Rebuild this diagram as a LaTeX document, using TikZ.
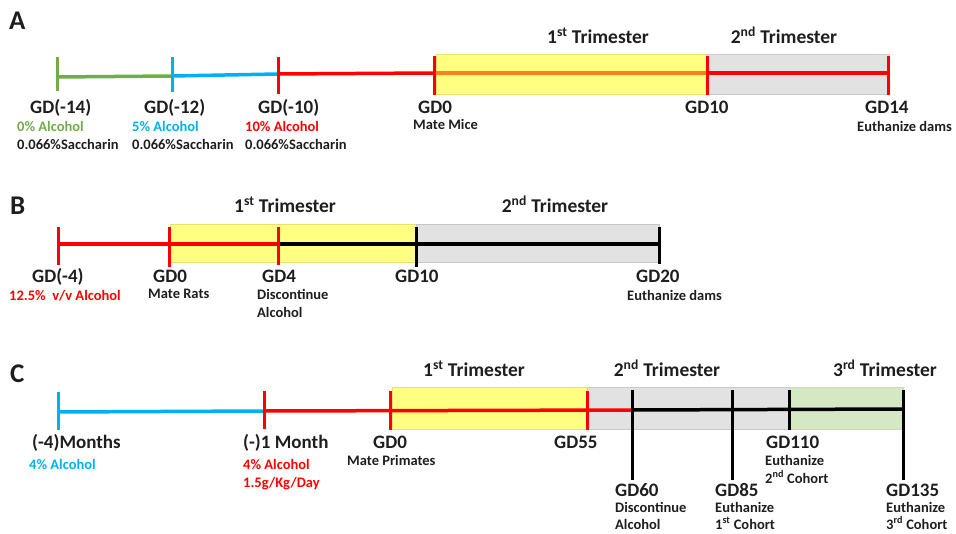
\documentclass[tikz,border=0pt]{standalone}
\usepackage{fontspec}
\setmainfont{Carlito}
\definecolor{yfill}{HTML}{FFFF80}
\definecolor{yedge}{HTML}{EEE070}
\definecolor{gfill}{HTML}{E2E2E2}
\definecolor{gedge}{HTML}{C8C8C8}
\definecolor{tfill}{HTML}{D5E8C4}
\definecolor{tedge}{HTML}{C8DDB4}
\definecolor{lgreen}{HTML}{70AD47}
\definecolor{lblue}{HTML}{00B0F0}
\definecolor{lred}{HTML}{FF0000}
\definecolor{lorange}{HTML}{F58220}
\definecolor{ink}{HTML}{1E1E1E}
\tikzset{
  gdlab/.style={anchor=base west,inner sep=0pt,text=ink,font=\fontsize{19}{22}\selectfont\bfseries},
  sublab/.style={anchor=base west,inner sep=0pt,text=ink,font=\fontsize{14.5}{17}\selectfont\bfseries},
  trilab/.style={anchor=base,inner sep=0pt,text=ink,font=\fontsize{19.5}{22}\selectfont\bfseries},
  panlab/.style={anchor=base west,inner sep=0pt,text=ink,font=\fontsize{27}{30}\selectfont\bfseries},
  seg/.style={line width=3.5pt},
  tickmark/.style={line width=3pt},
  band/.style={line width=1pt}
}
\begin{document}
\begin{tikzpicture}[x=1pt,y=-1pt]
\useasboundingbox (0,0) rectangle (956,534);
% ---------------- Panel A ----------------
\node[panlab] (pA) at (9,30) {A};
\filldraw[band,fill=yfill,draw=yedge] (436,55) rectangle (706,95);
\filldraw[band,fill=gfill,draw=gedge] (706,55) rectangle (889,95);
\coordinate (a1) at (57,77);  \coordinate (a1t) at (57,57);  \coordinate (a1b) at (57,91);
\coordinate (a2) at (172,76); \coordinate (a2t) at (172,57); \coordinate (a2b) at (172,92);
\coordinate (a3) at (278,74); \coordinate (a3t) at (278,57); \coordinate (a3b) at (278,94);
\coordinate (a4) at (434,73); \coordinate (a4t) at (434,56); \coordinate (a4b) at (434,95);
\coordinate (a5) at (707,73); \coordinate (a5t) at (707,56); \coordinate (a5b) at (707,95);
\coordinate (a6) at (888,73); \coordinate (a6t) at (888,56); \coordinate (a6b) at (888,95);
\draw[seg,lgreen] (a1) -- (a2);
\draw[seg,lblue] (a2) -- (a3);
\draw[seg,lred] (a3) -- (a4);
\draw[seg,lorange] (a4) -- (a5);
\draw[seg,lred] (a5) -- (a6);
\draw[tickmark,lgreen] (a1t) -- (a1b);
\draw[tickmark,lblue] (a2t) -- (a2b);
\draw[tickmark,lred] (a3t) -- (a3b);
\draw[tickmark,lred] (a4t) -- (a4b);
\draw[tickmark,lred] (a5t) -- (a5b);
\draw[tickmark,lred] (a6t) -- (a6b);
\node[trilab] (atri1) at (598,44) {1\textsuperscript{st} Trimester};
\node[trilab] (atri2) at (784,44) {2\textsuperscript{nd} Trimester};
\node[gdlab] (agd1) at (30,114) {GD(-14)};
\node[sublab,text=lgreen] (aal1) at (17,132) {0\% Alcohol};
\node[sublab] (asa1) at (17,150) {0.066\%Saccharin};
\node[gdlab] (agd2) at (144,114) {GD(-12)};
\node[sublab,text=lblue] (aal2) at (132,132) {5\% Alcohol};
\node[sublab] (asa2) at (132,150) {0.066\%Saccharin};
\node[gdlab] (agd3) at (258,114) {GD(-10)};
\node[sublab,text=lred] (aal3) at (245,132) {10\% Alcohol};
\node[sublab] (asa3) at (245,150) {0.066\%Saccharin};
\node[gdlab] (agd4) at (418,114) {GD0};
\node[sublab] (amate) at (413,130) {Mate Mice};
\node[gdlab] (agd5) at (685,114) {GD10};
\node[gdlab] (agd6) at (865,114) {GD14};
\node[sublab] (aeuth) at (857,132) {Euthanize dams};
% ---------------- Panel B ----------------
\node[panlab] (pB) at (10,215) {B};
\filldraw[band,fill=yfill,draw=yedge] (170,225) rectangle (416,263);
\filldraw[band,fill=gfill,draw=gedge] (416,225) rectangle (659,263);
\coordinate (b1) at (58,244);  \coordinate (b1t) at (58,227);  \coordinate (b1b) at (58,265);
\coordinate (b2) at (169,244); \coordinate (b2t) at (169,227); \coordinate (b2b) at (169,267);
\coordinate (b3) at (278,244); \coordinate (b3t) at (278,227); \coordinate (b3b) at (278,265);
\coordinate (b4) at (416,244); \coordinate (b4t) at (416,227); \coordinate (b4b) at (416,267);
\coordinate (b5) at (659,244); \coordinate (b5t) at (659,227); \coordinate (b5b) at (659,264);
\draw[seg,lred] (b1) -- (b3);
\draw[seg,black] (b3) -- (b5);
\draw[tickmark,lred] (b1t) -- (b1b);
\draw[tickmark,lred] (b2t) -- (b2b);
\draw[tickmark,lred] (b3t) -- (b3b);
\draw[tickmark,black] (b4t) -- (b4b);
\draw[tickmark,black] (b5t) -- (b5b);
\node[trilab] (btri1) at (285,213) {1\textsuperscript{st} Trimester};
\node[trilab] (btri2) at (555,213) {2\textsuperscript{nd} Trimester};
\node[gdlab] (bgd1) at (32,283) {GD(-4)};
\node[sublab,text=lred] (bal1) at (9,301) {12.5\%\ \ v/v Alcohol};
\node[gdlab] (bgd2) at (153,283) {GD0};
\node[sublab] (bmate) at (148,299) {Mate Rats};
\node[gdlab] (bgd3) at (262,283) {GD4};
\node[sublab] (bdis) at (257,300) {Discontinue};
\node[sublab] (bdis2) at (257,318) {Alcohol};
\node[gdlab] (bgd4) at (395,283) {GD10};
\node[gdlab] (bgd5) at (636,283) {GD20};
\node[sublab] (beuth) at (627,301) {Euthanize dams};
% ---------------- Panel C ----------------
\node[panlab] (pC) at (10,383) {C};
\filldraw[band,fill=yfill,draw=yedge] (392,388) rectangle (587,430);
\filldraw[band,fill=gfill,draw=gedge] (587,388) rectangle (789,430);
\filldraw[band,fill=tfill,draw=tedge] (789,388) rectangle (903,430);
\coordinate (c1) at (58,412);  \coordinate (c1t) at (58,392);  \coordinate (c1b) at (58,430);
\coordinate (c2) at (264,411); \coordinate (c2t) at (264,391); \coordinate (c2b) at (264,429);
\coordinate (c3) at (390,410); \coordinate (c3t) at (390,391); \coordinate (c3b) at (390,430);
\coordinate (c4) at (587,410); \coordinate (c4t) at (587,391); \coordinate (c4b) at (587,430);
\coordinate (c5) at (632,410); \coordinate (c5t) at (632,390); \coordinate (c5b) at (632,480);
\coordinate (c6) at (732,410); \coordinate (c6t) at (732,390); \coordinate (c6b) at (732,480);
\coordinate (c7) at (789,410); \coordinate (c7t) at (789,390); \coordinate (c7b) at (789,430);
\coordinate (c8) at (903,409); \coordinate (c8t) at (903,390); \coordinate (c8b) at (903,480);
\draw[seg,lblue] (c1) -- (c2);
\draw[seg,lred] (c2) -- (c5);
\draw[seg,black] (c5) -- (c8);
\draw[tickmark,lblue] (c1t) -- (c1b);
\draw[tickmark,lred] (c2t) -- (c2b);
\draw[tickmark,lred] (c3t) -- (c3b);
\draw[tickmark,lred] (c4t) -- (c4b);
\draw[tickmark,black] (c5t) -- (c5b);
\draw[tickmark,black] (c6t) -- (c6b);
\draw[tickmark,black] (c7t) -- (c7b);
\draw[tickmark,black] (c8t) -- (c8b);
\node[trilab] (ctri1) at (474,377) {1\textsuperscript{st} Trimester};
\node[trilab] (ctri2) at (667,377) {2\textsuperscript{nd} Trimester};
\node[trilab] (ctri3) at (885,377) {3\textsuperscript{rd} Trimester};
\node[gdlab] (cm4) at (32,449) {(-4)Months};
\node[sublab,text=lblue] (cal1) at (29,469) {4\% Alcohol};
\node[gdlab] (cm1) at (243,449) {(-)1 Month};
\node[sublab,text=lred] (cal2) at (243,469) {4\% Alcohol};
\node[sublab,text=lred] (cdose) at (243,487) {1.5g/Kg/Day};
\node[gdlab] (cgd0) at (373,449) {GD0};
\node[sublab] (cmate) at (347,465) {Mate Primates};
\node[gdlab] (cgd55) at (554,449) {GD55};
\node[gdlab] (cgd110) at (766,449) {GD110};
\node[sublab] (ceu2) at (765,465) {Euthanize};
\node[sublab] (cco2) at (765,483) {2\textsuperscript{nd} Cohort};
\node[gdlab] (cgd60) at (615,496) {GD60};
\node[sublab] (cdis) at (615,512) {Discontinue};
\node[sublab] (cdis2) at (615,529) {Alcohol};
\node[gdlab] (cgd85) at (715,496) {GD85};
\node[sublab] (ceu1) at (715,512) {Euthanize};
\node[sublab] (cco1) at (715,529) {1\textsuperscript{st} Cohort};
\node[gdlab] (cgd135) at (886,496) {GD135};
\node[sublab] (ceu3) at (886,512) {Euthanize};
\node[sublab] (cco3) at (886,529) {3\textsuperscript{rd} Cohort};
\end{tikzpicture}
\end{document}
